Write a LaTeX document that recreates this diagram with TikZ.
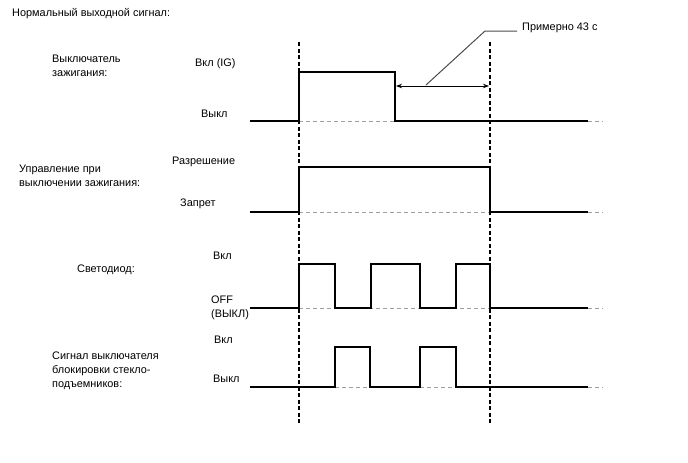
\documentclass[tikz,border=0pt]{standalone}
\usepackage{fontspec}
\setmainfont{Liberation Sans}
\usetikzlibrary{arrows.meta}
\begin{document}
\begin{tikzpicture}[x=1pt,y=-1pt,
  sig/.style={line width=1.2pt, black},
  refline/.style={gray!75, line width=1pt, dash pattern=on 4pt off 3pt},
  vline/.style={black, line width=1.1pt, dash pattern=on 4pt off 2.5pt},
  lbl/.style={anchor=west, inner sep=0pt, font=\fontsize{10.9}{14}\selectfont, align=left},
  dur/.style={line width=1pt, {Stealth[length=6pt,width=4.5pt]}-{Stealth[length=6pt,width=4.5pt]}}]
\useasboundingbox (0,0) rectangle (688,463);
% title
\node[lbl] (title) at (12,14) {Нормальный выходной сигнал:};
% row labels
\node[lbl] (l1) at (52,65.5) {Выключатель\\зажигания:};
\node[lbl] (l1h) at (195,64) {Вкл (IG)};
\node[lbl] (l1l) at (201,114) {Выкл};
\node[lbl] (l2) at (19,176) {Управление при\\выключении зажигания:};
\node[lbl] (l2h) at (172,162) {Разрешение};
\node[lbl] (l2l) at (180,204) {Запрет};
\node[lbl] (l3) at (77,270) {Светодиод:};
\node[lbl] (l3h) at (213,256) {Вкл};
\node[lbl] (l3l) at (211,308) {OFF\\(ВЫКЛ)};
\node[lbl] (l4) at (52,371) {Сигнал выключателя\\блокировки стекло-\\подъемников:};
\node[lbl] (l4h) at (214,340) {Вкл};
\node[lbl] (l4l) at (213,379) {Выкл};
\node[lbl] (note) at (522,28) {Примерно 43 с};
% reference (off level) dashed lines
\draw[refline] (299,121) -- (395,121);
\draw[refline] (588,121) -- (603,121);
\draw[refline] (299,212) -- (490,212);
\draw[refline] (588,212) -- (603,212);
\draw[refline] (299,308) -- (490,308);
\draw[refline] (588,308) -- (603,308);
\draw[refline] (335,387) -- (370,387);
\draw[refline] (420,387) -- (456,387);
\draw[refline] (588,387) -- (603,387);
% signals
\draw[sig] (250,121) -- (299,121) -- (299,72) -- (395,72) -- (395,121) -- (588,121);
\draw[sig] (250,212) -- (299,212) -- (299,167) -- (490,167) -- (490,212) -- (588,212);
\draw[sig] (250,308) -- (299,308) -- (299,264) -- (335,264) -- (335,308) -- (371,308)
  -- (371,264) -- (420,264) -- (420,308) -- (456,308) -- (456,264) -- (490,264)
  -- (490,308) -- (588,308);
\draw[sig] (250,387) -- (335,387) -- (335,347) -- (370,347) -- (370,387) -- (420,387)
  -- (420,347) -- (456,347) -- (456,387) -- (588,387);
% timing markers
\coordinate (v1t) at (299,42);
\coordinate (v1b) at (299,423);
\coordinate (v2t) at (490,42);
\coordinate (v2b) at (490,423);
\draw[vline] (v1t) -- (v1b);
\draw[vline] (v2t) -- (v2b);
% duration arrow
\coordinate (a1) at (396,86);
\coordinate (a2) at (489,86);
\draw[dur] (a1) -- (a2);
\coordinate (ld) at (426,85);
\coordinate (lk) at (485,31);
\coordinate (le) at (517,31);
\draw[gray!60!black, line width=1pt] (ld) -- (lk) -- (le);
\end{tikzpicture}
\end{document}
